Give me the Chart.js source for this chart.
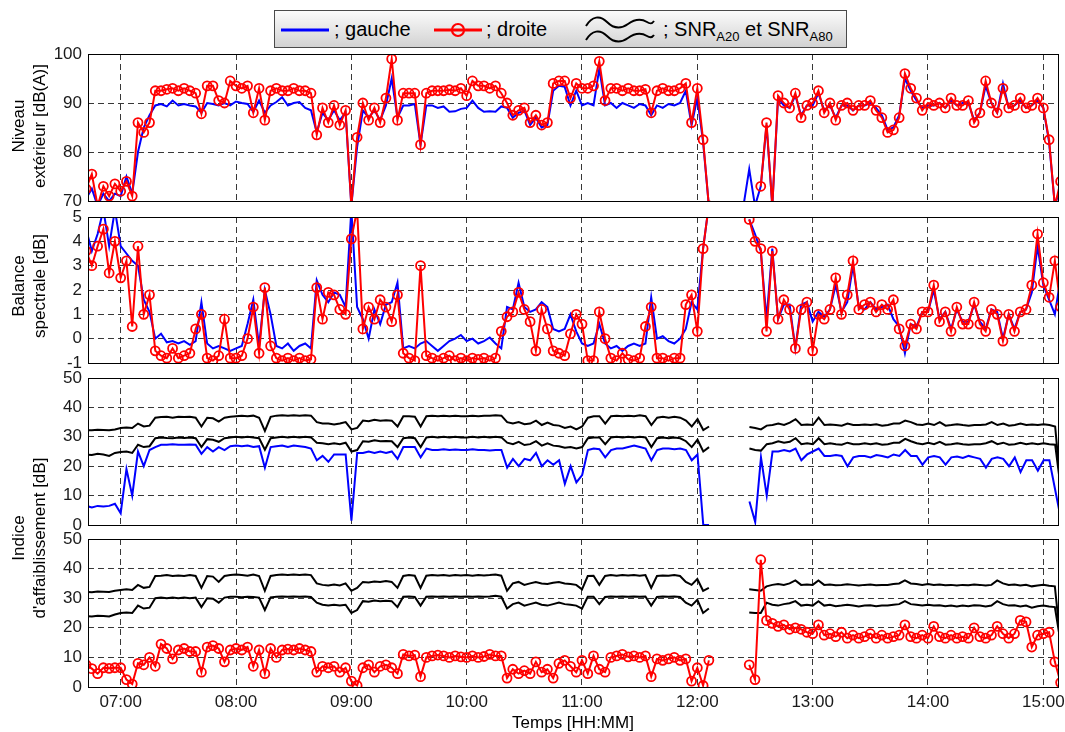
<!DOCTYPE html>
<html>
<head>
<meta charset="utf-8">
<title>Niveau, balance spectrale et indice d'affaiblissement</title>
<script src="https://cdn.jsdelivr.net/npm/chart.js@4.4.0/dist/chart.umd.min.js"></script>
<style>
  html, body { margin: 0; padding: 0; background: #fff; }
  #wrap { position: relative; width: 1065px; height: 732px; overflow: hidden;
          font-family: "Liberation Sans", Arial, sans-serif; color: #000; }
  #wrap canvas { position: absolute; left: 0; }
  .ylab { position: absolute; white-space: nowrap; font-size: 17px; line-height: 17px;
          transform: translate(-50%, -50%) rotate(-90deg); }
  #xtitle { position: absolute; left: 573px; top: 714px; transform: translateX(-50%);
            font-size: 17px; line-height: 17px; white-space: nowrap; }
  #legend { position: absolute; left: 274px; top: 10px; width: 573px; height: 38px;
            box-sizing: border-box; border: 1px solid #4a4a4a;
            background: linear-gradient(#fbfbfb, #d2d2d2); }
  #legend .it { position: absolute; top: 0; height: 37px; display: flex; align-items: center;
                font-size: 20px; white-space: nowrap; }
  #legend sub { font-size: 13px; vertical-align: -5px; line-height: 0; }
</style>
</head>
<body>
<div id="wrap">
  <div id="legend">
    <div class="it" style="left:6px"><svg width="48" height="14"><line x1="0" y1="7" x2="48" y2="7" stroke="#0000ff" stroke-width="3"/></svg></div>
    <div class="it" style="left:59px"><span>; gauche</span></div>
    <div class="it" style="left:159px"><svg width="48" height="16"><line x1="0" y1="8" x2="48" y2="8" stroke="#ff0000" stroke-width="3"/><circle cx="24" cy="8" r="6" fill="none" stroke="#ff0000" stroke-width="2.2"/></svg></div>
    <div class="it" style="left:211px"><span>; droite</span></div>
    <div class="it" style="left:309px"><svg width="72" height="34"><path d="M2,13 C8,3 16,2 23,9 C30,16 37,16 44,11 C51,6 58,6 63,9 C66,11 68,11 70,8" fill="none" stroke="#000" stroke-width="2"/><path d="M2,27 C8,17 16,16 23,23 C30,30 37,30 44,25 C51,20 58,20 63,23 C66,25 68,25 70,22" fill="none" stroke="#000" stroke-width="2"/></svg></div>
    <div class="it" style="left:388px"><span>; SNR<sub>A20</sub> et SNR<sub>A80</sub></span></div>
  </div>

  <canvas id="p1" width="1065" height="171" style="top:42px"></canvas>
  <canvas id="p2" width="1065" height="170" style="top:205px"></canvas>
  <canvas id="p3" width="1065" height="171" style="top:366px"></canvas>
  <canvas id="p4" width="1065" height="205" style="top:527px"></canvas>

  <div class="ylab" style="left:18px; top:126px">Niveau</div>
  <div class="ylab" style="left:39px; top:126px">extérieur [dB(A)]</div>
  <div class="ylab" style="left:18px; top:286px">Balance</div>
  <div class="ylab" style="left:39px; top:286px">spectrale [dB]</div>
  <div class="ylab" style="left:18px; top:538px">Indice</div>
  <div class="ylab" style="left:39px; top:538px">d'affaiblissement [dB]</div>
  <div id="xtitle">Temps [HH:MM]</div>
</div>

<script>
// Sampling: one value every 3 minutes, first sample at 06:42 (minutes after midnight).
const startMinute = 402;
const stepMinutes = 3;
const xMin = 403;   // 06:43
const xMax = 908;   // 15:08

const hourTicks  = [420, 480, 540, 600, 660, 720, 780, 840, 900];
const hourLabels = ['07:00', '08:00', '09:00', '10:00', '11:00', '12:00', '13:00', '14:00', '15:00'];

// Niveau extérieur [dB(A)] - droite (red) and gauche (blue)
const levelRight = [
  72.5, 75.5, 69, 73, 71, 73.5,
  72, 74, 71, 86, 84, 86, 92.5, 92.5, 92.8, 93, 92.5, 93, 92.5, 92, 87.8, 93.5, 93.5, 90.5, 90, 94.5,
  93.5, 93, 93.5, 88, 93, 86.5, 92.5, 93, 92.5, 92.5, 93, 92.5, 92.5, 92, 83.5, 89, 86, 89.5, 85.5, 88.5,
  69, 83, 90, 86.5, 89, 86, 91, 99, 86.5, 92, 92, 92, 81.5, 92, 92.5, 92.5, 92.5, 92.7, 92.5, 93,
  91.5, 94.5, 93.5, 93.5, 93, 93.5, 92, 90, 87.5, 88.5, 89, 86, 87.5, 85.5, 86, 94, 94.5, 94.5, 91, 94,
  93, 93, 93.5, 98.5, 90.5, 93, 93, 92.5, 93, 92.5, 92.5, 92.8, 88, 92.5, 93, 92.5, 92.5, 93, 94, 86,
  93, 82.5, 69, null, null, null, null, null, null, null, null, 73, 86, 69, 91.5, 90, 89, 92, 87, 89.5,
  90, 92.5, 88, 90, 86.5, 89.5, 90, 88.5, 89.5, 89.5, 90.5, 88.5, 87, 84, 84.5, 87, 96, 93, 91, 88.5,
  90, 89.5, 90, 89, 91, 89.5, 89.5, 90.5, 86, 88, 94.5, 90, 88, 93, 89, 89.5, 91, 89, 89.5, 91,
  89, 82.5, 69, 74
];
const levelLeft = [
  70.5, 72.5, 69, 71.5, 70, 71.5,
  71, 75, 71.5, 80, 85, 87.5, 89.5, 89.8, 89.3, 90.5, 89.5, 89.8, 89.5, 89.3, 88, 90, 89.8, 89.5, 90, 89.5,
  90.3, 90, 89.8, 88.2, 90.5, 88, 89.5, 90.2, 91.2, 89.5, 90, 90.2, 89, 88.5, 84, 88, 86.5, 88.5, 86.5, 88,
  69, 81, 88.5, 87, 88.5, 86.5, 89.5, 95, 87, 89.5, 89.5, 89.8, 81.5, 89.5, 89.5, 89, 89.3, 88.2, 88.3, 88.8,
  89, 90.5, 89, 88.2, 88.3, 88.2, 89.3, 89, 87, 88, 88.5, 85.5, 87, 85, 85.5, 92.5, 93.5, 93.3, 89.5, 92.5,
  89.5, 90, 89.5, 97, 89.5, 90, 89, 90, 89.5, 89, 89.8, 89.5, 87.5, 89.5, 89, 89.8, 89.5, 90, 92.5, 85.5,
  91, 82, 69, null, null, null, null, null, 69, 76.5, 69, 73, 85.5, 69, 91, 89.5, 89, 91.5, 87.5, 89.5,
  89.5, 92, 88.5, 89.5, 87, 89.5, 89.5, 88.5, 89.5, 89.5, 90, 89, 87.5, 84.5, 85, 87.5, 95, 92.5, 90.5, 89,
  89.5, 89.5, 90, 89, 90.5, 89.5, 90, 90, 86.5, 88, 93.5, 90, 88, 94, 89, 89.5, 90.5, 89, 89.5, 90.5,
  89, 82, 69, 73
];

// Balance spectrale [dB]
const balanceRight = [
  3.6, 3.0, 3.8, 4.5, 2.7, 4.0,
  2.5, 3.2, 0.5, 3.8, 1.0, 1.8, -0.5, -0.7, -0.8, -0.4, -0.8, -0.7, -0.6, 0.4, 1, -0.8, -0.9, -0.7, 0.8, -0.8,
  -0.8, -0.7, 0, 1.3, -0.6, 2.1, -0.3, -0.8, -0.9, -0.8, -0.9, -0.8, -0.9, -0.85, 2.1, 0.8, 1.9, 1.8, 1.2, 1,
  4.1, 5.3, 0.4, 1.3, 0.8, 1.6, 1.3, 0.7, 1.8, -0.6, -0.8, -0.9, 3, -0.7, -0.8, -0.9, -0.8, -0.7, -0.9, -0.8,
  -0.9, -0.8, -0.85, -0.8, -0.9, -0.8, 0.3, 0.9, 1.1, 1.9, 1.2, 0.7, -0.5, 1.2, 0.4, -0.5, -0.6, -0.7, 0.2, 1,
  0.6, -0.9, -0.9, 1.1, 0, -0.8, -0.9, -0.6, -0.85, -0.9, -0.8, 0.5, 1.3, -0.8, -0.8, -0.9, -0.8, -0.8, 1.4, 1.8,
  0.3, 3.7, 5.5, null, null, null, null, null, null, 4.9, 4, 3.7, 0.3, 3.6, 0.8, 1.6, 1.2, -0.4, 1.2, 1.5,
  -0.5, 1, 0.8, 1.2, 2.5, 1, 1.8, 3.2, 1.2, 1.4, 1.5, 1.1, 1.4, 1.2, 1.6, 0.4, -0.3, 0.6, 0.4, 1.1,
  1.1, 2.2, 0.7, 1.1, 0.3, 1.3, 0.6, 0.6, 1.5, 0.6, 0.3, 1.2, 1, -0.1, 1, 0.3, 1.1, 1.2, 2.2, 4.3,
  2.3, 1.7, 3.2, 1.3
];
const balanceLeft = [
  4.5, 3.6, 4.3, 5.3, 3.8, 5.3,
  3.8, 3.5, 3.2, 3, 1.6, 1.1, 0, 0.2, -0.15, -0.1, -0.2, -0.1, -0.25, -0.1, 1.5, -0.2, -0.4, -0.3, -0.4, -0.5,
  -0.4, -0.3, 0.6, 1.6, -0.3, 2, 1, -0.3, -0.4, -0.2, -0.5, -0.3, -0.2, -0.4, 2.4, 1.8, 1.5, 1.9, 1.8, 1.3,
  5.3, 1.3, 0.8, 0, 1.2, 0.6, 1.4, 1.5, 2.3, -0.4, -0.3, -0.4, -0.2, -0.1, -0.3, -0.5, -0.3, -0.1, 0, 0.15,
  -0.1, 0, -0.2, -0.1, 0.05, -0.2, -0.4, 1.3, 1.2, 2.3, 1.3, 1.1, 1.2, 1.5, 1.3, 0.4, 0.3, 0.4, 1, 0.3,
  -0.2, -0.3, -0.2, 0.6, -0.2, -0.4, -0.3, -0.5, -0.3, -0.2, -0.3, -0.2, 1.7, 0, 0.1, -0.1, -0.2, 0, 0.4, 1.5,
  1.2, 3.7, 5.5, null, null, null, null, null, null, 4.9, 4.3, 3.6, 0.8, 3.7, 0.8, 1.4, 1.4, -0.4, 1.4, 1.5,
  0.7, 1.1, 0.9, 1.2, 2.2, 1.1, 1.5, 3, 1.3, 1.2, 1.5, 1.2, 1.3, 1.4, 0.8, 0.5, -0.6, 0.6, 0.5, 1.1,
  1.1, 2, 0.8, 1.1, 0.4, 1.2, 0.7, 0.7, 1.4, 0.7, 0.4, 1.2, 1.1, 0, 1, 0.4, 1.1, 1.2, 1.9, 3.8,
  2.2, 1.6, 1, 2.5
];

// Indice d'affaiblissement [dB] - gauche (blue) with its SNR curves
const indexLeft = [
  6.5, 6, 6.5, 6.3, 6.5, 7.2,
  4, 19, 10, 25, 20, 25.5, 26.5, 27.3, 27.3, 27.5, 27.3, 27.3, 27.4, 27.3, 24.2, 26.5, 25, 26.5, 25.5, 26.8,
  27, 26.8, 27, 26.5, 26.8, 19.5, 26.5, 26.8, 27, 26.5, 27, 26.8, 26.5, 26, 22, 23.5, 21.5, 24, 24, 24,
  1.5, 24.5, 24.5, 25, 24.5, 25, 24.5, 25, 22.5, 26.5, 26.5, 26.5, 23, 26, 25.5, 25.5, 25.8, 25.5, 25.7, 25.5,
  25.5, 25.8, 25.5, 25.5, 25.3, 25.5, 25.5, 19.5, 22.5, 20, 22.5, 22, 24.5, 20, 22, 20.5, 22, 14, 20, 14.5,
  17, 25.5, 26, 25.8, 23, 25.5, 26, 26, 26.5, 27, 26.5, 26, 22, 25.5, 26, 26, 25.8, 26, 25.5, 22,
  24, 0, 0, null, null, null, null, null, null, 8, 1, 23, 10, 25, 25, 25.5, 25, 26, 22, 24,
  25, 26, 23.5, 23.5, 23.8, 23.5, 20, 23, 23.5, 23.5, 23, 23.8, 23.5, 23, 24, 23.5, 25.5, 23.5, 23.5, 20.5,
  23, 23.5, 23, 20.5, 23, 23.3, 22.8, 23.5, 23, 22.5, 19.5, 22.5, 23, 22.5, 20, 23, 18, 22, 22, 18.5,
  22, 22, 12, 2
];
const snrHighLeft = [
  32.3, 32.2, 32.4, 32.3, 32.2, 32.5,
  33, 33.2, 33, 34.5, 33.5, 33.8, 36.5, 36.7, 36.8, 36.5, 36.8, 36.7, 36.8, 36.5, 33.5, 36.5, 36.3, 35.2, 36.5, 36.8,
  37, 37.2, 37, 37.2, 36.5, 32, 36.8, 37.2, 37.3, 37.2, 37.3, 37.2, 37.3, 37.2, 35, 34.5, 34.5, 34.2, 34.5, 35,
  32.5, 33, 35.5, 35.3, 35.8, 35.5, 35.6, 35.5, 33.5, 37, 37, 36.8, 33.5, 37, 37.2, 37, 37.2, 37, 37.2, 37,
  37, 37.2, 37, 37.2, 37.2, 37.3, 37.2, 35, 34.5, 35, 34.3, 34.5, 35.5, 34, 34.8, 34, 33.8, 33, 33.5, 32.5,
  33.5, 36.5, 37, 37, 34.5, 37, 37.2, 37, 37.2, 37, 37.3, 37, 34, 36.5, 36.8, 36.5, 36.8, 36.5, 35.5, 33.5,
  36, 32.3, 33.5, null, null, null, null, null, null, 33.3, 33, 32.5, 33.8, 34, 34.5, 34, 34.8, 36, 34, 34.2,
  34, 36.5, 34, 34.2, 34, 33.8, 34.5, 34, 34, 34.2, 34, 34.3, 33.8, 34, 34.5, 34.5, 35.5, 35, 34.2, 34,
  34.5, 34, 35, 33.8, 34, 34.3, 34, 33.8, 34, 34, 34.2, 35, 34, 34.5, 33.8, 34, 34.5, 34, 34.2, 34,
  34.3, 34, 33.5, 12
];
const snrLowLeft = [
  24, 23.8, 24.2, 24, 23.5, 24.5,
  24.8, 25, 24.5, 27.3, 26.5, 26.8, 29.5, 29.8, 29.6, 29.5, 29.8, 29.6, 29.8, 29.5, 26.5, 29.2, 29, 28.3, 29.5, 29.8,
  30, 29.8, 30, 29.8, 29.5, 25.6, 29.5, 29.8, 30, 29.8, 30, 29.8, 30, 29.8, 28, 27.8, 27.5, 27.8, 27.5, 28,
  25, 25.5, 28.5, 28.3, 28.8, 28.5, 28.6, 28.5, 26.5, 29.5, 29.8, 29.5, 26.5, 29.8, 30, 29.8, 30, 29.8, 30, 29.8,
  29.8, 30, 29.8, 30, 29.8, 30, 29.8, 28, 27.5, 28.3, 27.2, 27.5, 28.5, 27, 27.8, 27, 26.8, 26.3, 26.5, 26,
  26.5, 29.5, 29.8, 29.8, 27.5, 29.8, 30, 29.8, 30, 29.8, 30, 29.8, 26.5, 29.5, 29.8, 29.5, 29.8, 29.5, 28.5, 26.5,
  29, 25, 26.5, null, null, null, null, null, null, 26, 25.5, 25.3, 27.5, 27.8, 28.5, 28, 28.3, 29.5, 27.5, 27.8,
  27.5, 29.5, 27.5, 27.8, 27.5, 27.3, 28, 27.5, 27.5, 27.8, 27.5, 27.8, 27.3, 27.5, 28, 28, 29.3, 28.5, 27.8, 27.5,
  28, 27.5, 28.3, 27.3, 27.5, 27.8, 27.5, 27.3, 27.5, 27.5, 27.8, 28.5, 27.5, 28, 27.3, 27.5, 28, 27.5, 27.8, 27.5,
  27.8, 27.5, 27.3, 12
];

// Indice d'affaiblissement [dB] - droite (red) with its SNR curves
const indexRight = [
  7.5, 6.2, 4.5, 6.5, 6.3, 6.5,
  6.5, 2.5, 1, 8, 7.5, 10, 7, 14.5, 13, 9.5, 12.5, 13, 12, 12, 5, 13.5, 14, 13, 8.5, 12.5,
  13, 12.5, 13.5, 7, 12.5, 4.5, 13, 10, 12.5, 12.8, 12.5, 13, 12.5, 12, 5, 7, 6.5, 7, 5, 6.5,
  2, 0.5, 6.5, 7.5, 5, 7, 7.5, 6.5, 4.5, 11, 10.5, 10.8, 3.5, 10, 10.5, 10.8, 10.5, 10, 10.5, 10.2,
  10, 10.5, 10, 10.3, 11, 10.5, 10.5, 3, 6, 4.5, 5.5, 4.5, 8.5, 5, 6, 3, 8, 9, 7, 5,
  9, 4.5, 10.5, 6, 5, 10, 10.5, 11, 10.2, 10.5, 10, 10.5, 3.5, 9.5, 9, 9.5, 10, 9, 9.5, 2,
  6.5, 0.5, 9, null, null, null, null, null, null, 7.5, 2.5, 43, 22.5, 21.5, 20.5, 21, 19.5, 20, 19.5, 18.5,
  18, 21, 17.5, 18, 17, 18.5, 16.5, 17.5, 16.5, 17, 18, 16.5, 17.5, 16.5, 17, 17.5, 21, 17, 16.5, 17.5,
  16.5, 20.5, 17, 16.5, 17.5, 16.5, 17, 16.5, 20, 17, 16.5, 17.5, 20.5, 18, 16.5, 18, 22.5, 22, 13.5, 17.5,
  18, 18.5, 8.5, 1.5
];
const snrHighRight = [
  32.2, 32, 32.3, 32.2, 32.1, 32.5,
  32.8, 33, 32.8, 34.5, 33.5, 33.8, 37.5, 37.6, 37.8, 37.5, 37.7, 37.5, 37.8, 37.5, 33.5, 37.5, 37.3, 35.5, 37.5, 37.8,
  38, 37.8, 37.6, 38, 37.5, 32.5, 37.5, 37.8, 38, 37.8, 38, 37.8, 38, 37.8, 35, 34.5, 34.3, 34.6, 34.3, 35,
  32.5, 33.5, 35.5, 35.3, 35.6, 35.5, 35.8, 35.5, 33.5, 37.5, 37.8, 37.6, 33.5, 37.6, 37.8, 37.7, 37.8, 37.6, 37.8, 37.7,
  37.8, 37.6, 37.8, 37.7, 37.8, 38, 37.6, 32.5, 35, 35.5, 34.5, 35, 35.5, 35, 34.8, 35.2, 35.5, 35, 34.8, 34.5,
  33, 37.5, 37.6, 34.5, 37.5, 37.8, 37.6, 37.8, 37.7, 37.8, 37.6, 37.8, 33.5, 37.5, 37.7, 37.6, 37.8, 37.5, 35.5, 34.5,
  36.5, 32.5, 33.5, null, null, null, null, null, null, 33, 32.8, 32.5, 34, 34.5, 34.8, 34.5, 35, 36, 34.5, 34.6,
  34.5, 36, 34.5, 34.6, 34.4, 34.5, 34.7, 34.5, 34.3, 34.5, 34.6, 34.4, 34.5, 34.5, 34.8, 35, 36, 35, 34.8, 34.5,
  34.8, 34.5, 34.6, 34.4, 34.5, 34.3, 34.5, 34.4, 34.6, 34.5, 34.3, 34.5, 36, 35, 34.5, 34.6, 34.3, 34.5, 34, 34.3,
  34.5, 34.2, 34, 15
];
const snrLowRight = [
  24, 23.8, 24.1, 24, 23.8, 24.5,
  25, 25.2, 25, 27.5, 26.5, 26.8, 30, 30.2, 30, 30.2, 30, 30.2, 30, 30.2, 27, 30, 29.8, 28.5, 30.2, 30.5,
  30.5, 30.3, 30.5, 30.4, 30.2, 26, 30.3, 30.5, 30.6, 30.5, 30.6, 30.5, 30.6, 30.4, 28.5, 27.8, 27.5, 27.8, 27.5, 27.8,
  25, 26, 29, 28.8, 29.2, 29, 29.1, 29, 27, 30.5, 30.6, 30.4, 27.5, 30.5, 30.6, 30.5, 30.6, 30.5, 30.6, 30.5,
  30.6, 30.5, 30.6, 30.5, 30.6, 30.8, 30.5, 26.5, 28, 28.5, 27.5, 28, 28.5, 27.8, 27.5, 28, 28.5, 28, 27.8, 27.5,
  26.5, 30.5, 30.5, 28, 30.4, 30.6, 30.5, 30.6, 30.5, 30.6, 30.5, 30.6, 27.5, 30.4, 30.6, 30.5, 30.6, 30.4, 28.5, 27.5,
  29.5, 25, 26.5, null, null, null, null, null, null, 25.2, 25, 25, 28.5, 27.8, 27.5, 28, 28.3, 29, 27.5, 27.8,
  27.5, 29, 27.5, 27.8, 27.3, 27.5, 27.8, 27.5, 27.2, 27.5, 27.6, 27.3, 27.5, 27.5, 27.8, 28, 29, 28, 27.8, 27.5,
  27.8, 27.5, 27.6, 27.3, 27.5, 27.2, 27.5, 27.3, 27.6, 27.5, 27.2, 27.5, 29, 28, 27.5, 27.6, 27.2, 27.5, 26.8, 27.3,
  27.5, 27.2, 27, 15
];

// ---------------------------------------------------------------------------
const FONT = '"Liberation Sans", Arial, sans-serif';
const GRID = 'rgba(0,0,0,0.78)';
const DASH = [6, 4];

function toPoints(values) {
  return values.map((v, i) => ({ x: startMinute + i * stepMinutes, y: v }));
}
function blueSeries(values) {
  return { data: toPoints(values), borderColor: '#0000ff', borderWidth: 2,
           pointRadius: 0, tension: 0, spanGaps: false };
}
function blackSeries(values) {
  return { data: toPoints(values), borderColor: '#000000', borderWidth: 2,
           pointRadius: 0, tension: 0, spanGaps: false };
}
function redSeries(values) {
  return { data: toPoints(values), borderColor: '#ff0000', borderWidth: 2,
           pointRadius: 4.5, pointBorderWidth: 1.8, pointBorderColor: '#ff0000',
           pointBackgroundColor: 'rgba(0,0,0,0)', tension: 0, spanGaps: false };
}

// Solid frame round each plot area, drawn above grid and curves.
const frame = {
  id: 'frame',
  afterDraw(chart) {
    const a = chart.chartArea, ctx = chart.ctx;
    ctx.save();
    ctx.strokeStyle = '#000';
    ctx.lineWidth = 1;
    ctx.setLineDash([]);
    ctx.strokeRect(Math.round(a.left) + 0.5, Math.round(a.top) + 0.5,
                   Math.round(a.right - a.left) - 1, Math.round(a.bottom - a.top));
    ctx.restore();
  }
};

function makePanel(id, yMin, yMax, yStep, withTimeLabels, datasets) {
  const bottomPad = withTimeLabels ? 15 : 12;
  return new Chart(document.getElementById(id), {
    type: 'line',
    data: { datasets },
    plugins: [frame],
    options: {
      responsive: false,
      animation: false,
      events: [],
      devicePixelRatio: 1,
      layout: { padding: { left: 0, right: 6, top: 12, bottom: bottomPad } },
      plugins: { legend: { display: false }, tooltip: { enabled: false } },
      scales: {
        x: {
          type: 'linear', min: xMin, max: xMax,
          afterBuildTicks(s) { s.ticks = hourTicks.map(v => ({ value: v })); },
          afterFit(s) { s.height = withTimeLabels ? 30 : 0; s.paddingLeft = 0; s.paddingRight = 0; },
          ticks: {
            display: withTimeLabels, autoSkip: false, maxRotation: 0, padding: 5,
            color: '#1a1a1a', font: { family: FONT, size: 17 },
            callback: v => hourLabels[hourTicks.indexOf(v)]
          },
          grid: { color: GRID, lineWidth: 1, drawTicks: false },
          border: { display: false, dash: DASH }
        },
        y: {
          type: 'linear', min: yMin, max: yMax,
          afterFit(s) { s.width = 88; s.paddingTop = 0; s.paddingBottom = 0; },
          ticks: { stepSize: yStep, padding: 6, color: '#1a1a1a', font: { family: FONT, size: 17 } },
          grid: { color: GRID, lineWidth: 1, drawTicks: false },
          border: { display: false, dash: DASH }
        }
      }
    }
  });
}

makePanel('p1', 70, 100, 10, false, [redSeries(levelRight), blueSeries(levelLeft)]);
makePanel('p2', -1, 5, 1, false, [redSeries(balanceRight), blueSeries(balanceLeft)]);
makePanel('p3', 0, 50, 10, false, [blackSeries(snrHighLeft), blackSeries(snrLowLeft), blueSeries(indexLeft)]);
makePanel('p4', 0, 50, 10, true, [redSeries(indexRight), blackSeries(snrHighRight), blackSeries(snrLowRight)]);
</script>
</body>
</html>
